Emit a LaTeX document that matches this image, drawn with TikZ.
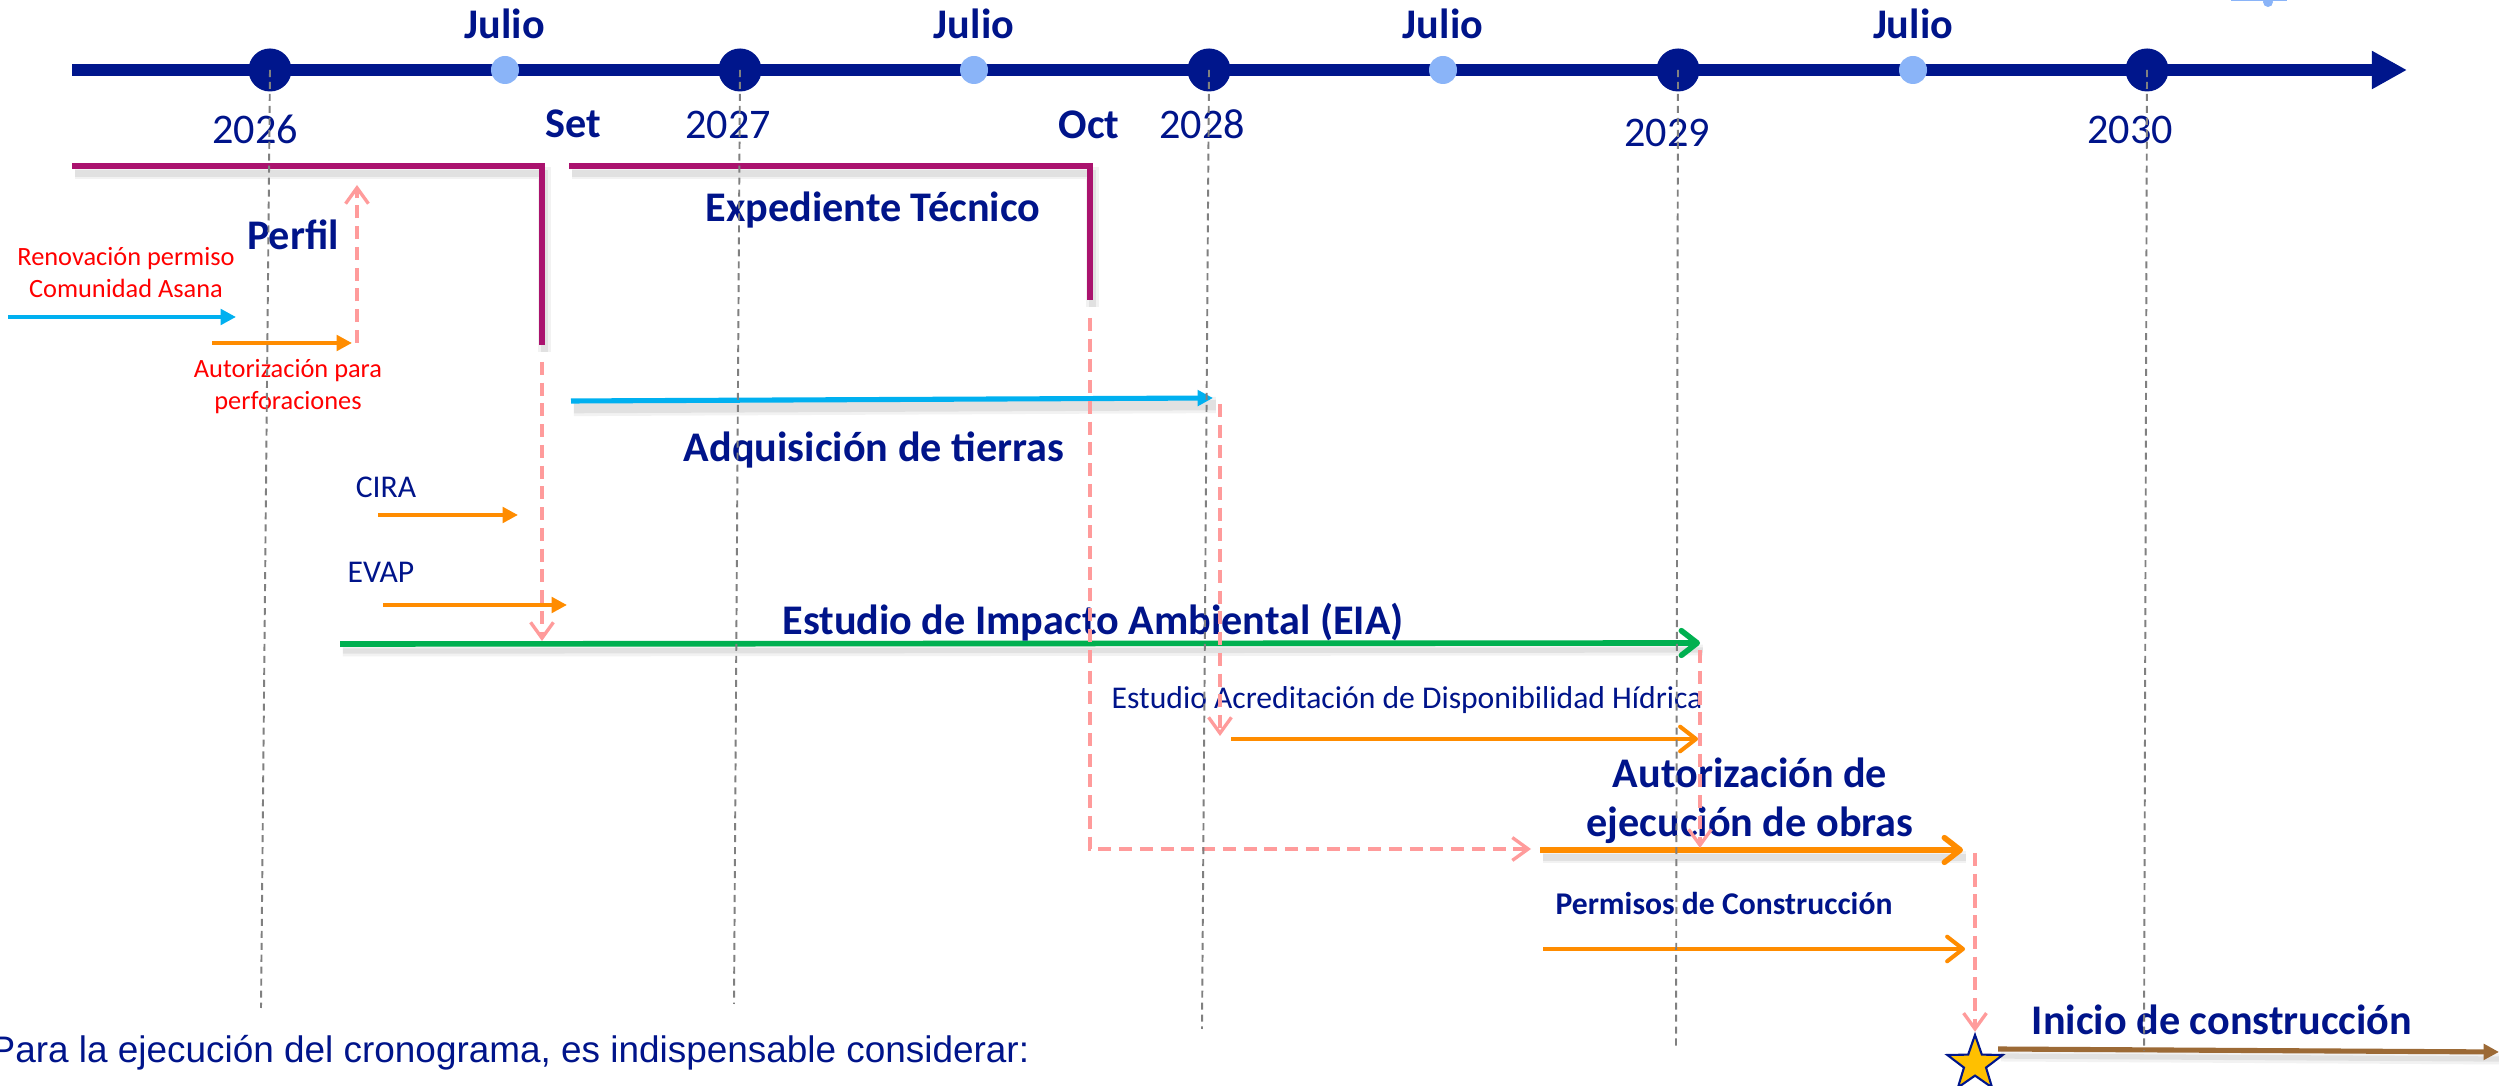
\documentclass[tikz,border=0pt]{standalone}
\usepackage{fontspec}
\setmainfont{Carlito}
\newfontfamily\arialfont{Liberation Sans}
\usetikzlibrary{arrows.meta,positioning,calc,shapes.geometric}
\definecolor{navyline}{RGB}{0,22,140}
\definecolor{navytext}{RGB}{0,20,138}
\definecolor{halfdot}{RGB}{138,180,248}
\definecolor{bracketmag}{RGB}{170,18,110}
\definecolor{permcyan}{RGB}{0,176,240}
\definecolor{permorange}{RGB}{255,140,0}
\definecolor{eiagreen}{RGB}{0,176,80}
\definecolor{obrabrown}{RGB}{156,106,54}
\definecolor{linkpink}{RGB}{255,155,155}
\definecolor{guidegray}{RGB}{128,128,128}
\definecolor{stargold}{RGB}{255,192,0}
\tikzset{
  yeardot/.style={circle,fill=navyline,inner sep=0pt,minimum size=0.43cm},
  juliodot/.style={circle,fill=halfdot,inner sep=0pt,minimum size=0.28cm},
  bigtag/.style={font=\fontsize{12}{14.2}\selectfont\bfseries,text=navytext,inner sep=0pt},
  yeartag/.style={font=\fontsize{12}{14}\selectfont,text=navytext,inner sep=0pt},
  smalltag/.style={font=\fontsize{9}{11}\selectfont,text=navytext,inner sep=0pt},
  redtag/.style={font=\fontsize{7.5}{9.1}\selectfont,text=red,inner sep=0pt,align=center},
  guide/.style={guidegray,line width=0.55pt,dash pattern=on 2pt off 1.4pt},
  link/.style={linkpink,line width=0.95pt,dash pattern=on 3.7pt off 2.2pt,
    -{Straight Barb[length=4.5pt,width=6.5pt]}},
  soft shadow/.style={
    preaction={draw=black,-,opacity=0.05,line width=#1+1.6pt,
      transform canvas={shift={(0.8pt,-2pt)}}},
    preaction={draw=black,-,opacity=0.07,line width=#1,
      transform canvas={shift={(0.8pt,-2pt)}}}},
  soft shadow/.default=2pt,
  fillhead/.style={-{Triangle[length=4.4pt,width=4.4pt]}},
  openhead/.style={-{Straight Barb[length=4.5pt,width=7pt,round]}}
}

\begin{document}
\begin{tikzpicture}[x=0.01cm,y=-0.01cm]
  \clip (0,0) rectangle (2499,1086);

  % timeline
  \coordinate (tlStart) at (72,70);
  \coordinate (tlEnd) at (2407,70);
  \draw[navyline,line width=3.4pt,-{Triangle[length=10pt,width=10.2pt]}] (tlStart) -- (tlEnd);
  \foreach \yr/\x/\bx/\by in {2026/270/255/144,2027/740/728/139,2028/1209/1202/139,
                              2029/1678/1667/147,2030/2147/2130/144} {
    \node[yeardot] (d\yr) at (\x,70) {};
    \node[yeartag,anchor=base] (y\yr) at (\bx,\by) {\yr};
  }
  \foreach \m/\x in {1/505,2/974,3/1443,4/1913} {
    \node[juliodot] (j\m) at (\x,70) {};
    \node[bigtag,anchor=base] (jl\m) at (\x,39) {Julio};
  }
  \node[bigtag,anchor=base] (set) at (573,138) {Set};
  \node[bigtag,anchor=base] (oct) at (1089,139) {Oct};
  % cropped milestone at the top edge
  \fill[halfdot] (2231,-3) rectangle (2287,1);
  \fill[halfdot] (2268,2) circle (5);

  % perfil and expediente
  \coordinate (perfA) at (72,166);
  \coordinate (perfB) at (542,166);
  \coordinate (perfC) at (542,345);
  \draw[bracketmag,line width=1.6pt,soft shadow] (perfA) -- (perfB) -- (perfC);
  \coordinate (expA) at (569,166);
  \coordinate (expB) at (1090,166);
  \coordinate (expC) at (1090,300);
  \draw[bracketmag,line width=1.6pt,soft shadow] (expA) -- (expB) -- (expC);
  \node[bigtag,anchor=base] (perfil) at (293,250) {Perfil};
  \node[bigtag,anchor=base] (expediente) at (873,222) {Expediente Técnico};

  % permisos previos
  \node[redtag,anchor=base] (renov) at (126,298) {Renovación permiso\\Comunidad Asana};
  \coordinate (renovA) at (8,317);
  \coordinate (renovB) at (236,317);
  \draw[permcyan,line width=1.15pt,fillhead] (renovA) -- (renovB);
  \node[redtag,anchor=base] (perfo) at (288,410) {Autorización para\\perforaciones};
  \coordinate (perfoA) at (212,343);
  \coordinate (perfoB) at (352,343);
  \draw[permorange,line width=1.15pt,fillhead] (perfoA) -- (perfoB);
  \coordinate (perfoUp) at (357,343);
  \coordinate (perfoTop) at (357,185);
  \draw[link] (perfoUp) -- (perfoTop);

  \node[smalltag,anchor=base] (cira) at (386,498) {CIRA};
  \coordinate (ciraA) at (378,515);
  \coordinate (ciraB) at (518,515);
  \draw[permorange,line width=1.15pt,fillhead] (ciraA) -- (ciraB);
  \node[smalltag,anchor=base] (evap) at (381,583) {EVAP};
  \coordinate (evapA) at (383,605);
  \coordinate (evapB) at (567,605);
  \draw[permorange,line width=1.15pt,fillhead] (evapA) -- (evapB);

  % tierras
  \coordinate (adqA) at (571,401);
  \coordinate (adqB) at (1213,398);
  \draw[permcyan,line width=1.45pt,fillhead,soft shadow=3pt] (adqA) -- (adqB);
  \node[bigtag,anchor=base] (adq) at (874,462) {Adquisición de tierras};

  % EIA
  \coordinate (eiaA) at (340,644);
  \coordinate (eiaB) at (1700,643);
  \draw[eiagreen,line width=1.6pt,openhead,soft shadow=1.5pt] (eiaA) -- (eiaB);
  \node[bigtag,anchor=base] (eia) at (1093,635) {Estudio de Impacto Ambiental (EIA)};

  % disponibilidad hidrica
  \node[smalltag,anchor=base west] (hidrica) at (1111,709) {Estudio Acreditación de Disponibilidad Hídrica};
  \coordinate (hidA) at (1231,739);
  \coordinate (hidB) at (1698,739);
  \draw[permorange,line width=1.15pt,openhead] (hidA) -- (hidB);

  % autorizacion y permisos
  \coordinate (autA) at (1540,850);
  \coordinate (autB) at (1963,850);
  \draw[permorange,line width=1.6pt,openhead,soft shadow] (autA) -- (autB);
  \node[bigtag,anchor=base,align=center] (aut) at (1750,837) {Autorización de\\ejecución de obras};
  \node[smalltag,font=\fontsize{9}{11}\selectfont\bfseries,anchor=base] (permisos) at (1724,915) {Permisos de Construcción};
  \coordinate (perA) at (1543,949);
  \coordinate (perB) at (1965,949);
  \draw[permorange,line width=1.15pt,openhead] (perA) -- (perB);

  % inicio de obra
  \node[star,star points=5,star point ratio=2.5,fill=stargold,draw=navyline,line width=0.6pt,
        inner sep=0pt,minimum size=0.58cm] (star) at (1975,1064) {};
  \coordinate (iniA) at (1998,1049);
  \coordinate (iniB) at (2499,1052);
  \draw[obrabrown,line width=1.45pt,fillhead,soft shadow=1.5pt] (iniA) -- (iniB);
  \node[bigtag,anchor=base] (inicio) at (2222,1035) {Inicio de construcción};

  % dependencias
  \coordinate (perfDown) at (542,362);
  \coordinate (perfEia) at (542,641);
  \draw[link] (perfDown) -- (perfEia);
  \coordinate (expDown) at (1090,318);
  \coordinate (expAut) at (1531,849);
  \draw[link] (expDown) |- (expAut);
  \coordinate (adqDown) at (1220,404);
  \coordinate (adqHid) at (1220,736);
  \draw[link] (adqDown) -- (adqHid);
  \coordinate (eiaDown) at (1700,650);
  \coordinate (eiaAut) at (1700,848);
  \draw[link] (eiaDown) -- (eiaAut);
  \coordinate (autDown) at (1975,853);
  \draw[link] (autDown) -- (star.north);

  \node[font=\arialfont\fontsize{10.5}{12}\selectfont,text=navytext,anchor=base west,inner sep=0pt]
    (nota) at (-10,1063) {Para la ejecución del cronograma, es indispensable considerar:};

  % year guides
  \foreach \yr/\gx/\gy in {2026/261/1008,2027/734/1004,2028/1202/1029,2029/1676/1046,2030/2144/1051} {
    \coordinate (g\yr) at (\gx,\gy);
    \draw[guide] (d\yr.center) -- (g\yr);
  }
\end{tikzpicture}
\end{document}
